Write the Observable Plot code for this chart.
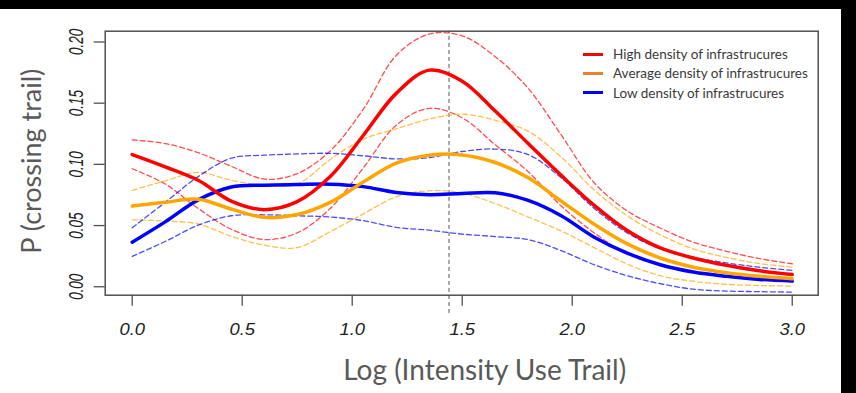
<!DOCTYPE html>
<html>
<head>
<meta charset="utf-8">
<script src="https://cdn.jsdelivr.net/npm/d3@7"></script>
<script src="https://cdn.jsdelivr.net/npm/@observablehq/plot@0.6"></script>
<style>
  html, body { margin: 0; padding: 0; background: #000; }
  body { width: 856px; height: 393px; overflow: hidden; position: relative; }
  #wrap { position: absolute; left: 0; top: 9px; width: 841px; height: 384px; background: #fff; }
  #legend { position: absolute; left: 583px; top: 35px; font-family: Lato, "Open Sans", sans-serif; font-size: 13.5px; color: #3a3a3a; }
  #legend .row { position: absolute; left: 0; height: 20px; display: flex; align-items: center; white-space: nowrap; }
  #legend .sw { width: 20px; height: 3px; margin-right: 10px; }
</style>
</head>
<body>
<div id="wrap"><div id="legend"></div></div>
<script>
// ---- data ----
const xGrid = [0, 0.15, 0.3, 0.45, 0.6, 0.75, 0.9, 1.05, 1.2, 1.35, 1.5, 1.65, 1.8, 1.95, 2.1, 2.25, 2.4, 2.55, 2.7, 2.85, 3.0];

const highMean  = [0.108, 0.098, 0.087, 0.070, 0.063, 0.0695, 0.090, 0.1236, 0.158, 0.177, 0.168, 0.1436, 0.117, 0.091, 0.0665, 0.046, 0.0318, 0.0235, 0.0175, 0.013, 0.010];
const highUpper = [0.120, 0.117, 0.1095, 0.0985, 0.088, 0.0925, 0.111, 0.145, 0.189, 0.2065, 0.205, 0.188, 0.162, 0.124, 0.085, 0.062, 0.048, 0.0365, 0.029, 0.023, 0.0188];
const highLower = [0.0964, 0.084, 0.064, 0.047, 0.0386, 0.044, 0.064, 0.097, 0.132, 0.1458, 0.138, 0.116, 0.094, 0.066, 0.044, 0.027, 0.018, 0.0125, 0.0085, 0.0065, 0.005];

const avgMean  = [0.066, 0.069, 0.0715, 0.0635, 0.0567, 0.059, 0.069, 0.0855, 0.101, 0.1075, 0.1077, 0.1015, 0.089, 0.070, 0.051, 0.035, 0.0235, 0.016, 0.0115, 0.0085, 0.0065];
const avgUpper = [0.0787, 0.0865, 0.0935, 0.087, 0.083, 0.084, 0.104, 0.1205, 0.129, 0.137, 0.141, 0.136, 0.127, 0.106, 0.079, 0.058, 0.0425, 0.031, 0.024, 0.019, 0.016];
const avgLower = [0.0547, 0.0537, 0.0513, 0.0412, 0.034, 0.032, 0.045, 0.0595, 0.0735, 0.0785, 0.0765, 0.068, 0.057, 0.0455, 0.032, 0.0185, 0.009, 0.0045, 0.002, 0.001, 0.0005];

const lowMean  = [0.0364, 0.053, 0.071, 0.0815, 0.083, 0.0835, 0.0838, 0.0818, 0.077, 0.0752, 0.0762, 0.0768, 0.0705, 0.058, 0.0405, 0.0275, 0.018, 0.012, 0.0085, 0.006, 0.0046];
const lowUpper = [0.0482, 0.069, 0.090, 0.105, 0.1075, 0.1085, 0.109, 0.107, 0.1045, 0.1055, 0.1105, 0.1125, 0.108, 0.089, 0.064, 0.044, 0.031, 0.024, 0.0195, 0.016, 0.0133];
const lowLower = [0.0248, 0.037, 0.0503, 0.058, 0.0588, 0.058, 0.057, 0.054, 0.0485, 0.0462, 0.043, 0.041, 0.0385, 0.0295, 0.018, 0.009, 0.0025, -0.002, -0.0035, -0.004, -0.0044];

const peakX = 1.44;
const xTicks = [0, 0.5, 1.0, 1.5, 2.0, 2.5, 3.0];
const yTicks = [0, 0.05, 0.10, 0.15, 0.20];

const seriesNames  = ["High density of infrastrucures", "Average density of infrastrucures", "Low density of infrastrucures"];
const lineColors   = ["#ff0000", "#ffa500", "#0000ff"];
const legendColors = ["#ff0000", "#ed7d31", "#0000ff"];

const xTitle = "Log (Intensity Use Trail)";
const yTitle = "P (crossing trail)";

// ---- build tables ----
const groups = [
  {mean: highMean, upper: highUpper, lower: highLower},
  {mean: avgMean, upper: avgUpper, lower: avgLower},
  {mean: lowMean, upper: lowUpper, lower: lowLower}
];
const toRows = (arr) => xGrid.map((x, i) => ({x, y: arr[i]}));

const W = 841, H = 384;
const marks = [];
groups.forEach((g, k) => {
  for (const arr of [g.upper, g.lower]) {
    marks.push(Plot.line(toRows(arr), {x: "x", y: "y", stroke: lineColors[k], strokeWidth: 1.3, strokeOpacity: 0.7, strokeDasharray: "5,3", curve: "catmull-rom"}));
  }
});
[2, 1, 0].forEach(k => {
  marks.push(Plot.line(toRows(groups[k].mean), {x: "x", y: "y", stroke: lineColors[k], strokeWidth: 3.5, curve: "catmull-rom"}));
});

const chart = Plot.plot({
  width: W, height: H,
  marginLeft: 104.7, marginRight: 23.3, marginTop: 21.7, marginBottom: 98.3,
  x: {domain: [-0.1227, 3.118]},
  y: {domain: [-0.0069, 0.2088]},
  style: {background: "white", overflow: "visible"},
  marks: [
    Plot.ruleX([peakX], {y1: -0.0218, y2: 0.2088, stroke: "#555", strokeWidth: 1, strokeDasharray: "4,3"}),
    ...marks,
    Plot.frame({stroke: "#505050", strokeWidth: 1.5}),
    Plot.axisY(yTicks, {tickSize: 11, tickFormat: () => "", stroke: "#505050", strokeWidth: 1.3, label: null}),
    Plot.axisX(xTicks, {tickSize: 11, tickFormat: () => "", stroke: "#505050", strokeWidth: 1.3, label: null}),
    Plot.text(yTicks, {y: d => d, text: d => d.toFixed(2), frameAnchor: "left", textAnchor: "middle", dx: -29, rotate: -90,
      fontFamily: "Liberation Sans, Arial, sans-serif", fontStyle: "italic", fontSize: 13.5, fill: "#222"}),
    Plot.text(xTicks, {x: d => d, text: d => d.toFixed(1), frameAnchor: "bottom", dy: 35, lineAnchor: "middle",
      fontFamily: "Liberation Sans, Arial, sans-serif", fontStyle: "italic", fontSize: 16, fill: "#222"}),
    Plot.text([xTitle], {frameAnchor: "bottom", lineAnchor: "middle", dy: 76, dx: 23,
      fontFamily: "Lato, 'Open Sans', sans-serif", fontSize: 28, fill: "#595959"}),
    Plot.text([yTitle], {frameAnchor: "left", textAnchor: "middle", lineAnchor: "middle", rotate: -90, dx: -73, dy: -2,
      fontFamily: "Lato, 'Open Sans', sans-serif", fontSize: 27, fill: "#595959"})
  ]
});
document.getElementById("wrap").prepend(chart);

// the R tick labels in the original are widened
d3.select(chart).selectAll('g[font-style="italic"] text').each(function() {
  const t = d3.select(this);
  const tr = t.attr("transform") || "";
  if (tr.includes("rotate")) {
    t.attr("transform", tr + " scale(1,1.5)");
  } else if (tr) {
    t.attr("transform", tr + " scale(1.15,1)");
  } else {
    const x = +t.attr("x") || 0;
    t.attr("transform", `translate(${x},0) scale(1.15,1) translate(${-x},0)`);
  }
});

// legend
const legend = document.getElementById("legend");
const rowTops = [0, 19.3, 38.7];
seriesNames.forEach((name, k) => {
  const row = document.createElement("div");
  row.className = "row";
  row.style.top = rowTops[k] + "px";
  const sw = document.createElement("div");
  sw.className = "sw";
  sw.style.background = legendColors[k];
  const tx = document.createElement("span");
  tx.textContent = name;
  row.appendChild(sw);
  row.appendChild(tx);
  legend.appendChild(row);
});
</script>
</body>
</html>
